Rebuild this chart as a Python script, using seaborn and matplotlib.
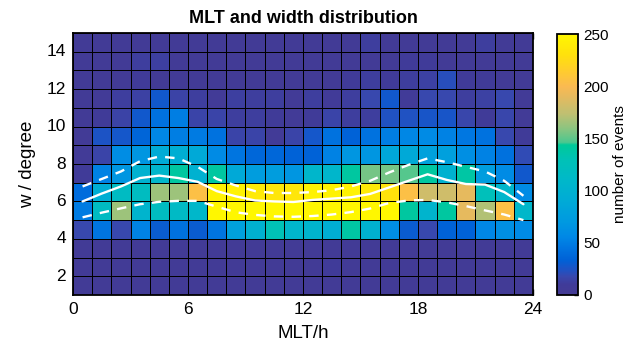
import matplotlib
matplotlib.use("Agg")
import matplotlib.pyplot as plt
from matplotlib.colors import LinearSegmentedColormap
import numpy as np
import pandas as pd
import seaborn as sns

# ---------------- data ----------------
mlt_bins = list(range(24))          # bin start, hours
w_bins = list(range(1, 15))         # bin start, degrees

counts_w1 = [5, 5, 5, 5, 5, 5, 5, 5, 5, 5, 5, 5, 5, 5, 5, 5, 5, 5, 5, 5, 5, 5, 5, 5]
counts_w2 = [5, 5, 5, 5, 5, 5, 5, 5, 5, 5, 5, 5, 5, 10, 5, 5, 5, 5, 5, 5, 5, 5, 5, 5]
counts_w3 = [5, 5, 5, 5, 5, 5, 5, 5, 5, 5, 5, 5, 5, 5, 5, 5, 5, 5, 5, 5, 5, 5, 5, 5]
counts_w4 = [18, 45, 18, 52, 30, 42, 30, 45, 80, 100, 128, 108, 105, 95, 138, 100, 60, 30, 18, 34, 34, 55, 62, 58]
counts_w5 = [48, 118, 165, 105, 120, 115, 110, 250, 250, 250, 250, 250, 250, 250, 250, 250, 250, 140, 105, 140, 190, 170, 205, 110]
counts_w6 = [40, 95, 118, 120, 165, 165, 205, 245, 245, 238, 235, 235, 245, 245, 245, 238, 232, 205, 180, 180, 190, 125, 108, 58]
counts_w7 = [9, 52, 68, 100, 108, 140, 100, 140, 88, 75, 75, 68, 108, 108, 140, 155, 155, 148, 140, 100, 138, 75, 58, 28]
counts_w8 = [6, 16, 60, 68, 90, 95, 88, 58, 45, 37, 37, 34, 34, 52, 68, 68, 85, 88, 80, 78, 62, 52, 42, 20]
counts_w9 = [5, 25, 27, 36, 55, 50, 48, 43, 16, 16, 6, 16, 27, 43, 34, 43, 50, 55, 58, 52, 46, 43, 18, 9]
counts_w10 = [5, 9, 15, 28, 42, 50, 16, 16, 12, 12, 9, 6, 9, 16, 12, 12, 24, 24, 26, 26, 17, 9, 17, 6]
counts_w11 = [5, 6, 12, 14, 28, 15, 12, 6, 13, 12, 12, 6, 12, 8, 12, 18, 28, 8, 18, 18, 12, 14, 18, 6]
counts_w12 = [5, 5, 5, 10, 5, 5, 5, 5, 5, 5, 5, 5, 5, 5, 10, 12, 10, 12, 14, 22, 10, 9, 5, 5]
counts_w13 = [5, 5, 5, 12, 13, 5, 5, 5, 5, 5, 5, 5, 5, 5, 5, 5, 5, 10, 10, 5, 5, 5, 5, 5]
counts_w14 = [5, 5, 5, 5, 5, 5, 5, 5, 5, 5, 5, 5, 5, 5, 5, 12, 5, 5, 5, 5, 5, 12, 5, 5]

mlt_centers = [0.5, 1.5, 2.5, 3.5, 4.5, 5.5, 6.5, 7.5, 8.5, 9.5, 10.5, 11.5,
               12.5, 13.5, 14.5, 15.5, 16.5, 17.5, 18.5, 19.5, 20.5, 21.5, 22.5, 23.5]
w_mean = [6.0, 6.42, 6.8, 7.25, 7.38, 7.25, 7.05, 6.55, 6.27, 6.05, 6.0, 5.97,
          6.08, 6.15, 6.22, 6.4, 6.75, 7.1, 7.45, 7.15, 6.93, 6.9, 6.5, 5.85]
w_upper = [6.8, 7.2, 7.6, 8.15, 8.4, 8.3, 7.85, 7.2, 6.85, 6.55, 6.45, 6.45,
           6.5, 6.6, 6.8, 7.1, 7.55, 7.95, 8.3, 8.1, 7.85, 7.6, 7.1, 6.3]
w_lower = [5.15, 5.4, 5.63, 5.85, 5.98, 6.03, 6.03, 5.72, 5.42, 5.28, 5.2, 5.18,
           5.22, 5.3, 5.43, 5.62, 5.92, 6.05, 6.08, 5.95, 5.75, 5.52, 5.3, 5.0]

xtick_vals = [0, 6, 12, 18, 24]
ytick_vals = [2, 4, 6, 8, 10, 12, 14]
cbar_ticks = [0, 50, 100, 150, 200, 250]

# ---------------- style ----------------
cmap = LinearSegmentedColormap.from_list("parula_like", [
    (0.000, (0.27, 0.23, 0.58)),
    (0.040, (0.25, 0.23, 0.60)),
    (0.070, (0.22, 0.28, 0.68)),
    (0.100, (0.10, 0.33, 0.78)),
    (0.130, (0.00, 0.38, 0.84)),
    (0.180, (0.00, 0.46, 0.88)),
    (0.220, (0.00, 0.53, 0.90)),
    (0.280, (0.00, 0.60, 0.88)),
    (0.360, (0.00, 0.67, 0.84)),
    (0.440, (0.00, 0.72, 0.79)),
    (0.520, (0.00, 0.76, 0.71)),
    (0.575, (0.00, 0.79, 0.60)),
    (0.585, (0.30, 0.78, 0.56)),
    (0.640, (0.55, 0.77, 0.50)),
    (0.700, (0.76, 0.75, 0.44)),
    (0.760, (0.90, 0.73, 0.37)),
    (0.800, (0.98, 0.73, 0.32)),
    (0.860, (1.00, 0.80, 0.18)),
    (0.920, (1.00, 0.88, 0.05)),
    (1.000, (1.00, 0.97, 0.00)),
])

sns.set_theme(style="white")
plt.rcParams["font.family"] = ["Liberation Sans", "DejaVu Sans"]
plt.rcParams["text.color"] = "black"
plt.rcParams["axes.labelcolor"] = "black"
plt.rcParams["xtick.color"] = "black"
plt.rcParams["ytick.color"] = "black"

counts = [counts_w1, counts_w2, counts_w3, counts_w4, counts_w5, counts_w6, counts_w7,
          counts_w8, counts_w9, counts_w10, counts_w11, counts_w12, counts_w13, counts_w14]
df = pd.DataFrame(counts, index=w_bins, columns=mlt_bins)

fig = plt.figure(figsize=(6.27, 3.51), dpi=100)
ax = fig.add_axes([73 / 627, 1 - 295 / 351, 460 / 627, 262 / 351])
cax = fig.add_axes([557 / 627, 1 - 295 / 351, 21 / 627, 261 / 351])

sns.heatmap(df, ax=ax, cbar_ax=cax, cmap=cmap, vmin=0, vmax=250,
            linewidths=0.7, linecolor="black",
            cbar_kws={"ticks": cbar_ticks})
ax.set_ylim(0, len(w_bins))
ax.set_xlim(0, len(mlt_bins))

x0 = mlt_bins[0]
y0 = w_bins[0]
xs = [m - x0 for m in mlt_centers]
sns.lineplot(x=xs, y=[v - y0 for v in w_mean], ax=ax, color="white", lw=1.7, sort=False)
sns.lineplot(x=xs, y=[v - y0 for v in w_upper], ax=ax, color="white", lw=1.7,
             sort=False, dashes=False, linestyle=(0, (4, 3.5)))
sns.lineplot(x=xs, y=[v - y0 for v in w_lower], ax=ax, color="white", lw=1.7,
             sort=False, dashes=False, linestyle=(0, (4, 3.5)))

ax.set_xticks([v - x0 for v in xtick_vals])
ax.set_xticklabels([str(v) for v in xtick_vals], rotation=0)
ax.set_yticks([v - y0 for v in ytick_vals])
ax.set_yticklabels([str(v) for v in ytick_vals], rotation=0)
ax.tick_params(axis="both", direction="in", length=4, width=1, color="black",
               labelcolor="black", top=True, right=True, bottom=True, left=True,
               labelsize=12.5, pad=5)
for s in ax.spines.values():
    s.set_visible(True)
    s.set_color("black")
    s.set_linewidth(1.3)

ax.set_title("MLT and width distribution", fontsize=13, fontweight="bold", pad=7,
             color="black")
ax.set_xlabel("MLT/h", fontsize=13.5, labelpad=6, color="black")
ax.set_ylabel("w / degree", fontsize=13.5, labelpad=8, color="black")

cax.tick_params(direction="in", length=3, width=1, color="black", labelcolor="black",
                labelsize=11, right=True, left=False, pad=4)
cax.set_ylabel("number of events", fontsize=11, rotation=90, labelpad=3, color="black")
cax.yaxis.set_label_position("right")
cbar = ax.collections[0].colorbar
cbar.outline.set_visible(True)
cbar.outline.set_edgecolor("black")
cbar.outline.set_linewidth(1.3)

fig.savefig("out.png", dpi=100)
